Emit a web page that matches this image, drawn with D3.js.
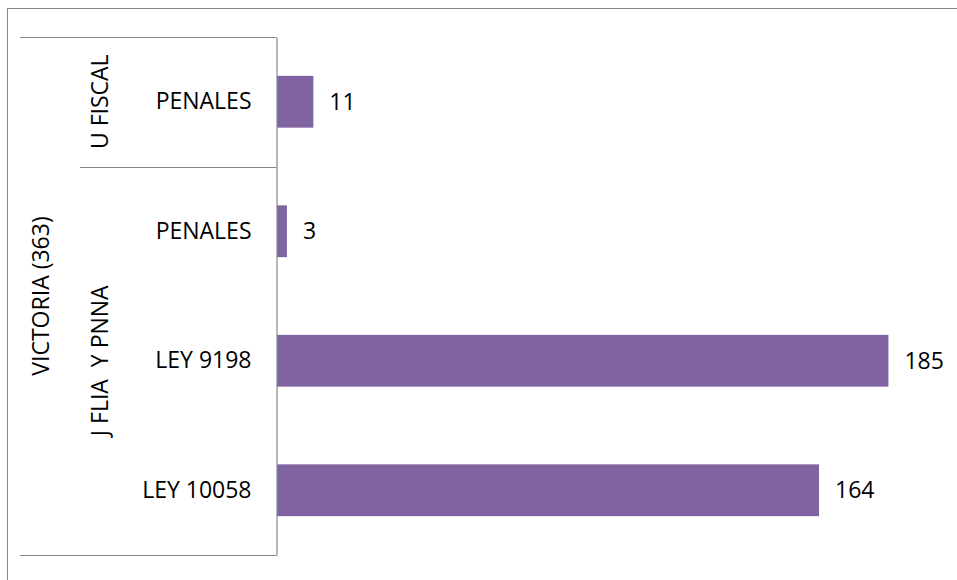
<!DOCTYPE html>
<html>
<head>
<meta charset="utf-8">
<script src="https://cdn.jsdelivr.net/npm/d3@7"></script>
<style>
  body { margin: 0; background: #fff; }
  text { font-family: "Open Sans", sans-serif; fill: #000; }
</style>
</head>
<body>
<div id="chart"></div>
<script>
// chart data
var topGroups = ["VICTORIA (363)"];
var subGroups = ["U FISCAL", "J FLIA  Y PNNA"];
var categories = ["PENALES", "PENALES", "LEY 9198", "LEY 10058"];
var subGroupOf = [0, 1, 1, 1];
var values = [11, 3, 185, 164];

var w = 957, h = 580;
var axisX = 276.5, plotTop = 37, plotBottom = 555;
var fontSize = "23px";

var svg = d3.select("#chart")
  .append("svg")
  .attr("width", w)
  .attr("height", h);

// outer chart border
svg.append("rect")
  .attr("x", 7.5)
  .attr("y", 8.5)
  .attr("width", w)
  .attr("height", h)
  .attr("fill", "none")
  .attr("stroke", "#868686")
  .attr("stroke-width", 1);

var y = d3.scaleBand()
  .domain(d3.range(categories.length))
  .range([plotTop, plotBottom])
  .paddingInner(0.6)
  .paddingOuter(0.3);

var x = d3.scaleLinear()
  .domain([0, 200])
  .range([axisX + 0.5, axisX + 0.5 + 661]);

// bars
svg.selectAll("rect.bar")
  .data(values)
  .enter()
  .append("rect")
  .attr("class", "bar")
  .attr("x", x(0))
  .attr("y", function(d, i) { return y(i); })
  .attr("width", function(d) { return x(d) - x(0); })
  .attr("height", y.bandwidth())
  .attr("fill", "#8064A2");

// value labels
svg.selectAll("text.val")
  .data(values)
  .enter()
  .append("text")
  .attr("class", "val")
  .attr("x", function(d) { return x(d) + 16; })
  .attr("y", function(d, i) { return y(i) + y.bandwidth() / 2; })
  .attr("dy", "0.35em")
  .style("font-size", fontSize)
  .text(function(d) { return d; });

// category axis
var axis = d3.axisLeft(y)
  .tickSize(0)
  .tickSizeOuter(0)
  .tickPadding(25)
  .tickFormat(function(i) { return categories[i]; });

var gAxis = svg.append("g")
  .attr("transform", "translate(" + axisX + ",0)")
  .call(axis);
gAxis.select(".domain").attr("stroke", "#868686").attr("stroke-width", 1.2);
gAxis.selectAll("text")
  .style("font-size", fontSize)
  .style("font-family", "'Open Sans', sans-serif");

var lineColor = "#868686";

// outer horizontal lines of the hierarchy
[plotTop, plotBottom].forEach(function(yy) {
  svg.append("line")
    .attr("x1", 20).attr("x2", axisX)
    .attr("y1", yy + 0.5).attr("y2", yy + 0.5)
    .attr("stroke", lineColor).attr("stroke-width", 1.2);
});

// sub group extents
var step = y.step();
var subRanges = subGroups.map(function(name, g) {
  var idx = d3.range(categories.length).filter(function(i) { return subGroupOf[i] === g; });
  var y0 = y(d3.min(idx)) - step * y.paddingInner() / 2;
  var y1 = y(d3.max(idx)) + y.bandwidth() + step * y.paddingInner() / 2;
  if (g === 0) y0 = plotTop;
  if (g === subGroups.length - 1) y1 = plotBottom;
  return {name: name, y0: y0, y1: y1};
});

// separators between sub groups
subRanges.slice(1).forEach(function(r) {
  svg.append("line")
    .attr("x1", 80).attr("x2", axisX)
    .attr("y1", Math.round(r.y0) + 0.5).attr("y2", Math.round(r.y0) + 0.5)
    .attr("stroke", lineColor).attr("stroke-width", 1.2);
});

// sub group labels (rotated)
svg.selectAll("text.sub")
  .data(subRanges)
  .enter()
  .append("text")
  .attr("class", "sub")
  .attr("transform", function(d) {
    return "translate(100," + ((d.y0 + d.y1) / 2) + ") rotate(-90)";
  })
  .attr("text-anchor", "middle")
  .attr("dy", "0.35em")
  .style("font-size", fontSize)
  .style("white-space", "pre")
  .text(function(d) { return d.name; });

// top group label
svg.selectAll("text.grp")
  .data(topGroups)
  .enter()
  .append("text")
  .attr("class", "grp")
  .attr("transform", "translate(41," + ((plotTop + plotBottom) / 2) + ") rotate(-90)")
  .attr("text-anchor", "middle")
  .attr("dy", "0.35em")
  .style("font-size", fontSize)
  .text(function(d) { return d; });
</script>
</body>
</html>
